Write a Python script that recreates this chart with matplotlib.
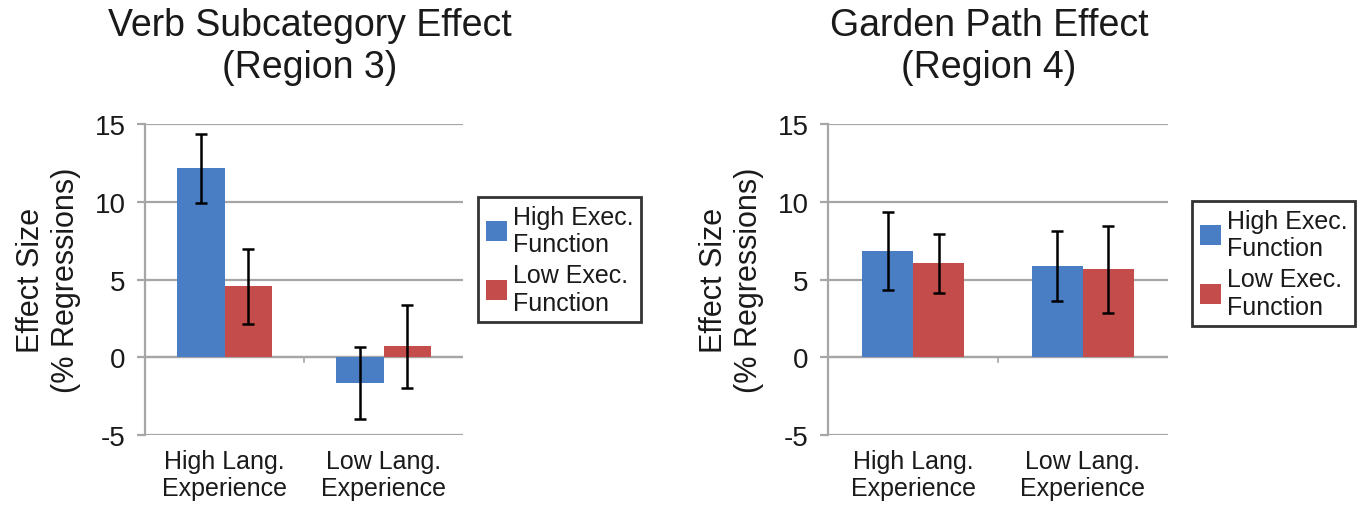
import matplotlib
matplotlib.use("Agg")
import matplotlib.pyplot as plt
import numpy as np

plt.rcParams['font.family'] = ['Liberation Sans', 'DejaVu Sans']

categories = ["High Lang.\nExperience", "Low Lang.\nExperience"]
series_names = ["High Exec.\nFunction", "Low Exec.\nFunction"]
colors = ["#4A7EC4", "#C44D4B"]

titles = ["Verb Subcategory Effect\n(Region 3)", "Garden Path Effect\n(Region 4)"]

# Verb subcategory effect (Region 3)
verb_high_ef = [12.15, -1.65]
verb_low_ef = [4.55, 0.7]
verb_high_err = [2.2, 2.33]
verb_low_err = [2.4, 2.65]

# Garden path effect (Region 4)
gp_high_ef = [6.85, 5.85]
gp_low_ef = [6.05, 5.65]
gp_high_err = [2.5, 2.25]
gp_low_err = [1.9, 2.8]

yticks = [-5, 0, 5, 10, 15]

fig = plt.figure(figsize=(13.63, 5.06), dpi=100)
ax_pos = [[0.1064, 0.1383, 0.2333, 0.6147], [0.6075, 0.1383, 0.2494, 0.6147]]
data = [(verb_high_ef, verb_low_ef, verb_high_err, verb_low_err),
        (gp_high_ef, gp_low_ef, gp_high_err, gp_low_err)]
legend_anchor = [(478 / 1363, 1 - 198 / 506), (1192 / 1363, 1 - 202 / 506)]
title_x = [310 / 1363, 989 / 1363]

txt_c = "#1a1a1a"
grid_c = "#A6A6A6"
for i in range(2):
    ax = fig.add_axes(ax_pos[i])
    hi, lo, hie, loe = data[i]
    x = np.arange(len(categories))
    w = 0.3
    ax.bar(x - w / 2, hi, w, color=colors[0], zorder=3, label=series_names[0])
    ax.bar(x + w / 2, lo, w, color=colors[1], zorder=3, label=series_names[1])
    ax.errorbar(x - w / 2, hi, yerr=hie, fmt='none', ecolor='black', elinewidth=1.8,
                capsize=4.3, capthick=1.8, zorder=4)
    ax.errorbar(x + w / 2, lo, yerr=loe, fmt='none', ecolor='black', elinewidth=1.8,
                capsize=4.3, capthick=1.8, zorder=4)
    ax.set_xlim(-0.5, 1.5)
    ax.set_ylim(-5, 15)
    ax.set_yticks(yticks)
    ax.set_yticklabels([str(t) for t in yticks], fontsize=20, color=txt_c)
    ax.yaxis.grid(True, color=grid_c, linewidth=1.6, zorder=0)
    ax.set_axisbelow(True)
    for s in ["top", "right", "bottom"]:
        ax.spines[s].set_visible(False)
    ax.spines["left"].set_color(grid_c)
    ax.spines["left"].set_linewidth(1.6)
    ax.tick_params(axis='y', length=6, color=grid_c, width=1.6, pad=8)
    ax.axhline(0, color=grid_c, linewidth=1.6, zorder=2)
    # category axis tick at 0 line
    ax.axvline(0.5, ymin=(0 - (-5)) / 20 - 0.015, ymax=(0 - (-5)) / 20, color=grid_c, linewidth=1.2)
    ax.set_xticks(x)
    ax.set_xticklabels(categories, fontsize=18, color=txt_c, linespacing=1.15)
    ax.tick_params(axis='x', length=0, pad=10)
    ax.set_ylabel("Effect Size\n(% Regressions)", fontsize=22, linespacing=1.2, labelpad=10,
                  color=txt_c)
    leg = ax.legend(loc="upper left", bbox_to_anchor=legend_anchor[i], bbox_transform=fig.transFigure,
                    fontsize=18, frameon=True, fancybox=False, handlelength=0.85, handleheight=0.85,
                    handletextpad=0.25, labelspacing=0.3, borderpad=0.3, borderaxespad=0)
    leg.get_frame().set_edgecolor("black")
    leg.get_frame().set_linewidth(2.0)
    for t in leg.get_texts():
        t.set_linespacing(1.18)
        t.set_color(txt_c)
    fig.text(title_x[i], 1 - 8 / 506, titles[i], ha="center", va="top", fontsize=27,
             linespacing=1.2, color=txt_c)

fig.savefig("out.png", dpi=100)
